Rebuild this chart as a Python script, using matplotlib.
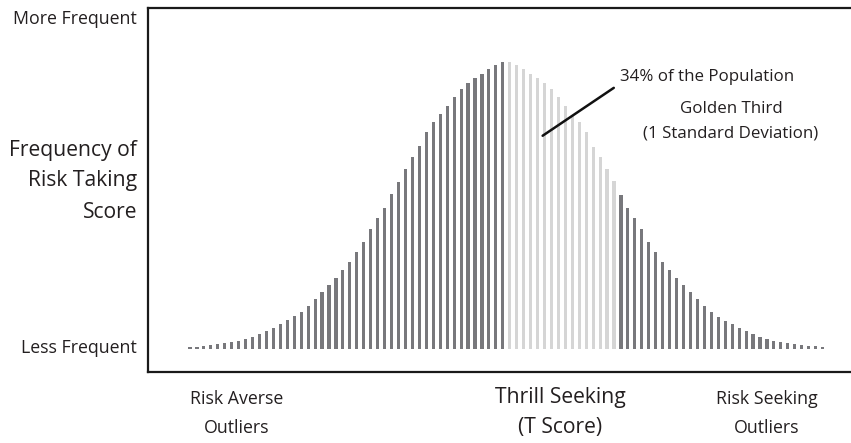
import matplotlib.pyplot as plt
import numpy as np

# bar heights (frequency), one per T score step
heights = [2, 2, 3, 4, 5, 6, 7, 8, 10, 12,
           15, 18, 21, 25, 29, 33, 37, 43, 50, 57,
           64, 71, 79, 87, 97, 107, 120, 131, 141, 155,
           167, 180, 192, 203, 217, 227, 235, 243, 252, 260,
           266, 271, 275, 280, 284, 287, 287, 284, 280, 275,
           271, 266, 260, 252, 243, 234, 227, 217, 202, 192,
           180, 168, 154, 141, 131, 120, 107, 97, 87, 79,
           71, 64, 57, 50, 43, 37, 32, 28, 25, 21,
           18, 15, 12, 10, 8, 7, 6, 5, 4, 3,
           3, 2]
golden_start = 46   # first light bar (mean)
golden_end = 61     # last light bar (+1 SD)

dark = "#78787c"
light = "#d5d5d5"
text_color = "#231f20"
font = "Open Sans"
small = 12.8
note = 12.2
big = 15.2

x = np.arange(len(heights))
colors = [light if golden_start <= i <= golden_end else dark for i in x]

fig = plt.figure(figsize=(8.51, 4.43), dpi=100)
ax = fig.add_axes([148 / 851, 71 / 443, 710 / 851, 364 / 443])
ax.bar(x, heights, width=0.45, color=colors)
ax.set_xlim(-6.04, 96.1)
ax.set_ylim(-22.7, 341.3)
ax.set_xticks([])
ax.set_yticks([])
for side in ["left", "top", "bottom"]:
    ax.spines[side].set_linewidth(1.6)
    ax.spines[side].set_color("#1a1a1a")
ax.spines["right"].set_visible(False)

# annotation line
ax.annotate("", xy=(50.4, 212), xytext=(61.3, 263),
            arrowprops=dict(arrowstyle="-", color="#111111", lw=1.8))


def ftext(px, py, s, size, ha="center"):
    fig.text(px / 851, 1 - py / 443, s, fontsize=size, ha=ha, va="center",
             color=text_color, family=font)


ftext(137, 19, "More Frequent", small, ha="right")
ftext(137, 150, "Frequency of", big, ha="right")
ftext(137, 181, "Risk Taking", big, ha="right")
ftext(137, 212, "Score", big, ha="right")
ftext(137, 348, "Less Frequent", small, ha="right")

ftext(237, 399, "Risk Averse", small)
ftext(237, 428, "Outliers", small)
ftext(560, 397, "Thrill Seeking", big)
ftext(560, 428, "(T Score)", big)
ftext(767, 399, "Risk Seeking", small)
ftext(767, 428, "Outliers", small)

ftext(707, 77, "34% of the Population", note)
ftext(731, 109, "Golden Third", note)
ftext(731, 134, "(1 Standard Deviation)", note)

plt.savefig("out.png", dpi=100)
